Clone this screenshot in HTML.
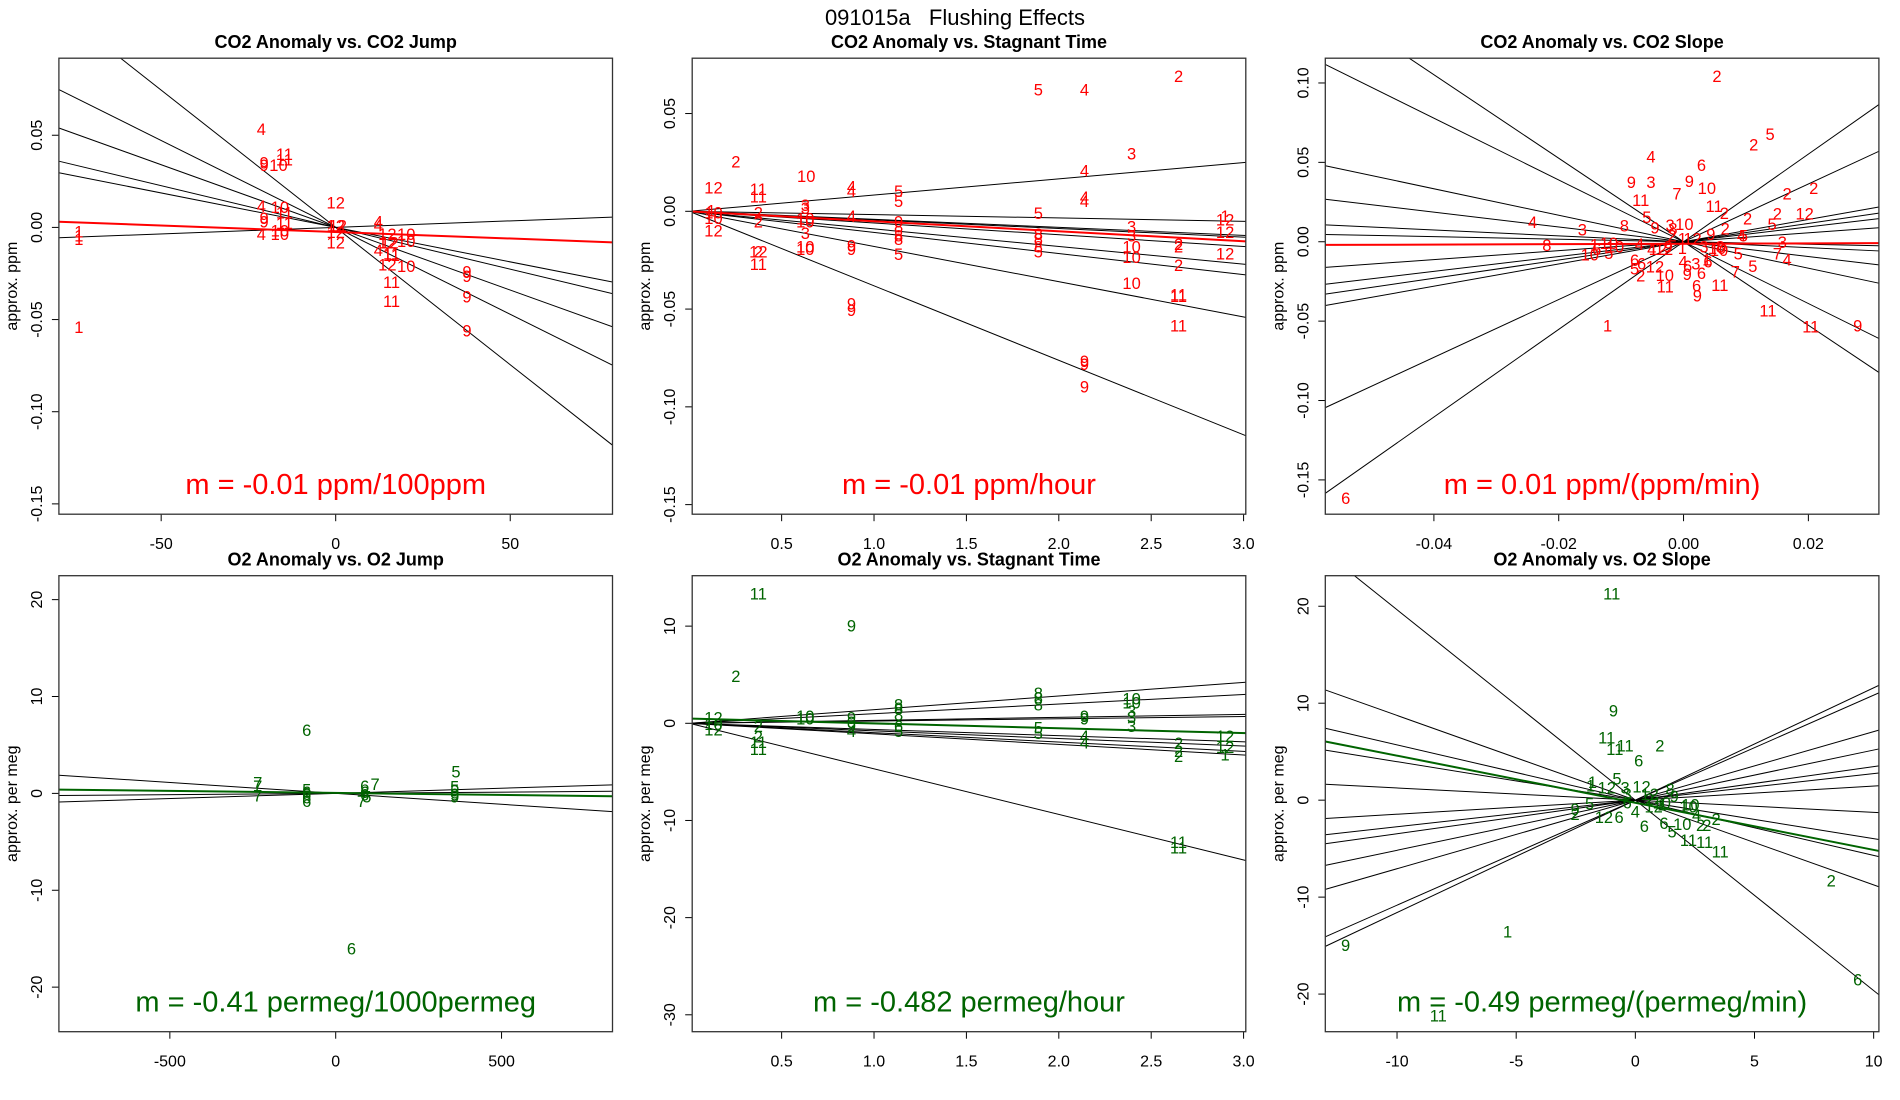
<!DOCTYPE html>
<html><head><meta charset="utf-8"><title>091015a Flushing Effects</title>
<style>
html,body{margin:0;padding:0;background:#fff;}
svg{display:block;font-family:"Liberation Sans",sans-serif;}
</style></head>
<body>
<svg id="chart" width="1900" height="1100" viewBox="0 0 1900 1100" xmlns="http://www.w3.org/2000/svg">
<rect x="0" y="0" width="1900" height="1100" fill="#fff"/>
<text x="955" y="25" font-size="22" text-anchor="middle" fill="#000" style="white-space:pre" xml:space="preserve">091015a   Flushing Effects</text>
</svg>
<script>
// ---------- Panel 1: CO2 Anomaly vs CO2 Jump ----------
var p1Labels = ["4","11","11","9","9","10","12","4","10","11","9","9","11","4","10","10","12","12","12","12","4","4","12","10","12","12","10","4","11","11","12","10","11","11","9","9","9","9","1","1","1","1"];
var p1X = [-21.3,-14.7,-14.7,-20.5,-20.5,-16.4,0,-21.3,-16.0,-14.7,-20.5,-20.5,-14.7,-21.3,-16.0,-16.0,0,0.6,0,0,12.2,12.2,14.8,20.2,14.8,15.4,20.2,12.2,16.0,16.0,14.8,20.2,16.0,16.0,37.6,37.6,37.6,37.6,-73.6,-73.6,-73.6,-73.6];
var p1Y = [0.0533,0.0397,0.0368,0.0353,0.0339,0.0339,0.0136,0.0116,0.0110,0.0081,0.0052,0.0033,0.0023,-0.0035,-0.0035,-0.0016,0.0010,0.0010,-0.0025,-0.0083,0.0033,0.0014,-0.0035,-0.0035,-0.0083,-0.0083,-0.0074,-0.0122,-0.0141,-0.0151,-0.0200,-0.0209,-0.0297,-0.0399,-0.0238,-0.0264,-0.0374,-0.0558,-0.0021,-0.0045,-0.0064,-0.0541];
var p1Slopes = [-0.000374,-0.000453,-0.00068,-0.000943,-0.00149,0.0000707];
var p1Fit = [-0.0025,-0.0000706];

// ---------- Panel 2: CO2 Anomaly vs Stagnant Time ----------
var p2Labels = ["2","5","4","3","2","10","4","12","11","11","4","4","5","5","4","4","3","3","5","4","2","2","1","10","10","12","10","10","3","9","8","8","8","5","9","9","12","2","11","10","10","8","8","8","5","3","3","10","10","2","2","2","10","11","11","11","9","9","9","9","9","1","12","12","12"];
var p2X = [2.648,1.889,2.139,2.394,0.252,0.633,2.139,0.131,0.374,0.374,0.878,0.878,1.133,1.133,2.139,2.139,0.628,0.628,1.889,0.878,0.374,0.374,0.119,0.131,0.131,0.131,0.628,0.628,0.628,1.133,1.133,1.133,1.133,1.133,0.878,0.878,0.374,0.374,0.374,0.628,0.628,1.889,1.889,1.889,1.889,2.394,2.394,2.394,2.394,2.648,2.648,2.648,2.394,2.648,2.648,2.648,0.878,0.878,2.139,2.139,2.139,2.900,2.900,2.900,2.900];
var p2Y = [0.0692,0.0624,0.0624,0.0296,0.0255,0.0181,0.0208,0.0122,0.0113,0.0077,0.0126,0.0104,0.0104,0.0053,0.0073,0.0053,0.0031,0.0016,-0.0009,-0.0024,-0.0005,-0.0051,0.0004,-0.0005,-0.0033,-0.0097,-0.0036,-0.0051,-0.0111,-0.0051,-0.0078,-0.0124,-0.0142,-0.0219,-0.0175,-0.0192,-0.0206,-0.0206,-0.0270,-0.0179,-0.0192,-0.0115,-0.0139,-0.0179,-0.0206,-0.0078,-0.0124,-0.0179,-0.0234,-0.0166,-0.0179,-0.0274,-0.0367,-0.0425,-0.0434,-0.0584,-0.0471,-0.0504,-0.0766,-0.0781,-0.0896,-0.0024,-0.0042,-0.0106,-0.0215];
var p2Slopes = [0.0083,-0.0017,-0.0041,-0.0044,-0.0060,-0.0090,-0.0108,-0.0180,-0.0381];
var p2Fit = [0,-0.0051];

// ---------- Panel 3: CO2 Anomaly vs CO2 Slope ----------
var p3Labels = ["2","5","2","4","6","9","3","9","10","7","2","2","11","11","2","12","2","2","5","5","4","8","3","9","3","10","8","2","9","4","5","8","1","10","10","4","1","12","3","10","5","6","1","4","12","10","5","7","4","6","6","5","12","2","4","6","3","1","6","10","9","6","7","5","11","6","11","9","1","11","11","9","6","9","2","8","10","3","12"];
var p3X = [0.00536,0.01386,0.01124,-0.00523,0.00288,-0.00837,-0.00523,0.00092,0.00373,-0.00105,0.0166,0.02085,-0.00686,0.0049,0.00654,0.01941,0.01503,0.01026,0.01418,-0.00588,-0.02418,-0.00948,-0.01621,-0.00458,-0.00216,0.00013,-0.0017,0.00667,0.00438,0.00928,0.00961,-0.0219,-0.01425,-0.01196,-0.01098,-0.00706,-0.0002,0.00144,0.01582,-0.01503,-0.01196,-0.01392,-0.0002,-0.0051,-0.00314,0.00536,0.00876,0.01503,0.0166,-0.00784,-0.00673,-0.00784,-0.00458,-0.00686,-0.00007,0.00065,0.00196,0.00373,0.00392,-0.00301,0.00059,0.00288,0.0083,0.01111,-0.00294,0.00209,0.00582,0.00222,-0.01216,0.01353,0.02039,0.02791,-0.05412,-0.00248,-0.00183,0.00588,0.00569,0.00327,-0.00412];
var p3Y = [0.1043,0.0679,0.0611,0.0537,0.0483,0.0375,0.0375,0.0382,0.0337,0.0303,0.0303,0.0337,0.0263,0.0225,0.018,0.0178,0.0178,0.0146,0.0112,0.0157,0.0124,0.0101,0.0076,0.009,0.0106,0.0112,0.0083,0.0083,0.0049,0.0038,0.0038,-0.0022,-0.0018,-0.0007,-0.0029,-0.0013,0.002,0.002,-0.0002,-0.0081,-0.007,-0.0047,-0.004,-0.0045,-0.0045,-0.004,-0.0074,-0.0074,-0.0112,-0.0115,-0.0137,-0.0169,-0.0157,-0.0213,-0.0126,-0.0153,-0.0137,-0.0112,-0.0126,-0.0209,-0.0204,-0.0198,-0.0187,-0.0153,-0.0283,-0.0276,-0.0272,-0.0339,-0.0528,-0.0434,-0.0535,-0.0528,-0.1613,-0.0029,0.0038,-0.0029,-0.0052,-0.0029,-0.0045];
var p3Slopes = [2.76,1.82,0.70,0.575,0.466,0.281,-0.08,-0.185,-0.466,-0.834,-1.946,-2.63];
var p3Fit = [-0.00129,0.0124];

// ---------- Panel 4: O2 Anomaly vs O2 Jump ----------
var p4Labels = ["6","5","7","7","7","6","7","5","6","6","6","6","6","6","7","5","5","5","9","9","6"];
var p4X = [-87.5,362.5,-235,-235,-235,87.5,118.75,-87.5,-87.5,-87.5,-87.5,-87.5,87.5,87.5,77.5,93.75,358.75,358.75,358.75,358.75,47.5];
var p4Y = [6.53,2.25,1.14,0.77,-0.22,0.77,0.96,0.41,-0.04,-0.41,-0.77,0.15,0.15,-0.11,-0.77,-0.33,0.70,0.33,-0.11,-0.33,-16.0];
var p4Slopes = [0.00106,0.00026,-0.00225];
var p4Fit = [0.05,-0.00041];

// ---------- Panel 5: O2 Anomaly vs Stagnant Time ----------
var p5Labels = ["11","9","2","8","8","8","10","10","3","8","8","8","10","10","9","9","9","4","6","5","9","9","3","3","5","5","4","4","12","12","10","2","2","11","11","2","2","2","12","12","1","11","11"];
var p5X = [0.374,0.878,0.252,1.889,1.889,1.889,2.394,2.394,2.394,1.133,1.133,1.133,0.628,0.628,0.878,0.878,0.878,0.878,1.133,1.133,2.139,2.139,2.394,2.394,1.889,1.889,2.139,2.139,0.131,0.131,0.131,0.374,0.374,0.374,0.374,2.648,2.648,2.648,2.900,2.900,2.900,2.648,2.648];
var p5Y = [13.35,10.04,4.85,3.13,2.68,1.95,2.57,2.13,1.29,1.95,1.58,0.92,0.74,0.48,0.59,0.11,-0.26,-0.81,-0.26,-0.81,0.74,0.48,0.66,-0.26,-0.44,-0.99,-1.29,-1.99,0.59,-0.63,-0.07,-0.26,-1.36,-1.91,-2.65,-2.02,-2.83,-3.38,-1.29,-2.46,-3.2,-12.21,-12.76];
var p5Slopes = [1.404,0.989,0.305,0.232,-0.634,-0.780,-0.963,-1.086,-4.688];
var p5Fit = [0.49,-0.50];

// ---------- Panel 6: O2 Anomaly vs O2 Slope ----------
var p6Labels = ["11","9","11","11","11","2","6","1","1","5","12","3","12","5","9","2","12","6","4","6","6","5","10","11","11","11","2","2","2","4","10","9","8","12","10","2","6","9","1","11","3","2","10","6","12","1"];
var p6X = [-0.99,-0.92,-1.2,-0.86,-0.43,1.03,0.14,-1.8,-1.88,-0.77,-1.2,-0.43,0.26,-1.92,-2.53,-2.53,-1.32,-0.68,0,0.38,1.2,1.54,1.97,2.23,2.91,3.56,2.74,3.0,3.39,2.57,2.31,1.63,1.46,0.77,2.23,8.22,9.33,-12.16,-5.36,-8.27,-0.34,0.6,1.11,-0.34,0.6,1.11];
var p6Y = [21.33,9.26,6.46,5.28,5.65,5.65,4.1,1.88,1.51,2.21,1.29,1.29,1.4,-0.33,-0.89,-1.44,-1.73,-1.73,-1.18,-2.66,-2.36,-3.21,-2.47,-4.13,-4.32,-5.31,-2.55,-2.55,-1.92,-1.55,-0.44,0.41,1.14,-0.63,-0.63,-8.3,-18.52,-14.94,-13.54,-22.21,0.66,0.11,-0.26,-0.26,0.66,-0.44];
var p6Slopes = [1.159,1.083,0.707,0.517,0.346,0.274,0.145,-0.126,-0.397,-0.570,-0.874,-1.964];
var p6Fit = [-0.27,-0.486];

// ---------- tick arrays ----------
var p1XTicks = [-50,0,50], p1XTickLabels = ["-50","0","50"];
var co2YTicks = [-0.15,-0.10,-0.05,0,0.05], co2YTickLabels = ["-0.15","-0.10","-0.05","0.00","0.05"];
var timeXTicks = [0.5,1.0,1.5,2.0,2.5,3.0], timeXTickLabels = ["0.5","1.0","1.5","2.0","2.5","3.0"];
var p3XTicks = [-0.04,-0.02,0,0.02], p3XTickLabels = ["-0.04","-0.02","0.00","0.02"];
var p3YTicks = [-0.15,-0.10,-0.05,0,0.05,0.10], p3YTickLabels = ["-0.15","-0.10","-0.05","0.00","0.05","0.10"];
var p4XTicks = [-500,0,500], p4XTickLabels = ["-500","0","500"];
var o2YTicks = [-20,-10,0,10,20], o2YTickLabels = ["-20","-10","0","10","20"];
var p5YTicks = [-30,-20,-10,0,10], p5YTickLabels = ["-30","-20","-10","0","10"];
var p6XTicks = [-10,-5,0,5,10], p6XTickLabels = ["-10","-5","0","5","10"];

var RED = "#ff0000", GREEN = "#006400";
var panels = [
 {id:"co2-jump",title:"CO2 Anomaly vs. CO2 Jump",left:58.9,top:58.2,xlim:[-79.3,79.3],ylim:[-0.1556,0.0918],xt:p1XTicks,xl:p1XTickLabels,yt:co2YTicks,yl:co2YTickLabels,ylab:"approx. ppm",labels:p1Labels,xs:p1X,ys:p1Y,slopes:p1Slopes,fit:p1Fit,col:RED,m:"m = -0.01 ppm/100ppm"},
 {id:"co2-stagnant",title:"CO2 Anomaly vs. Stagnant Time",left:692.2,top:58.2,xlim:[0.016,3.012],ylim:[-0.1549,0.0783],xt:timeXTicks,xl:timeXTickLabels,yt:co2YTicks,yl:co2YTickLabels,ylab:"approx. ppm",labels:p2Labels,xs:p2X,ys:p2Y,slopes:p2Slopes,fit:p2Fit,col:RED,m:"m = -0.01 ppm/hour"},
 {id:"co2-slope",title:"CO2 Anomaly vs. CO2 Slope",left:1325.3,top:58.2,xlim:[-0.0574,0.0313],ylim:[-0.1716,0.1156],xt:p3XTicks,xl:p3XTickLabels,yt:p3YTicks,yl:p3YTickLabels,ylab:"approx. ppm",labels:p3Labels,xs:p3X,ys:p3Y,slopes:p3Slopes,fit:p3Fit,col:RED,m:"m = 0.01 ppm/(ppm/min)"},
 {id:"o2-jump",title:"O2 Anomaly vs. O2 Jump",left:58.9,top:575.7,xlim:[-834.5,834.5],ylim:[-24.6,22.47],xt:p4XTicks,xl:p4XTickLabels,yt:o2YTicks,yl:o2YTickLabels,ylab:"approx. per meg",labels:p4Labels,xs:p4X,ys:p4Y,slopes:p4Slopes,fit:p4Fit,col:GREEN,m:"m = -0.41 permeg/1000permeg"},
 {id:"o2-stagnant",title:"O2 Anomaly vs. Stagnant Time",left:692.2,top:575.7,xlim:[0.016,3.012],ylim:[-31.74,15.19],xt:timeXTicks,xl:timeXTickLabels,yt:p5YTicks,yl:p5YTickLabels,ylab:"approx. per meg",labels:p5Labels,xs:p5X,ys:p5Y,slopes:p5Slopes,fit:p5Fit,col:GREEN,m:"m = -0.482 permeg/hour"},
 {id:"o2-slope",title:"O2 Anomaly vs. O2 Slope",left:1325.3,top:575.7,xlim:[-13.01,10.22],ylim:[-23.88,23.15],xt:p6XTicks,xl:p6XTickLabels,yt:o2YTicks,yl:o2YTickLabels,ylab:"approx. per meg",labels:p6Labels,xs:p6X,ys:p6Y,slopes:p6Slopes,fit:p6Fit,col:GREEN,m:"m = -0.49 permeg/(permeg/min)"}
];
var W = 553.6, H = 456;
var NS = "http://www.w3.org/2000/svg";
var svg = document.getElementById("chart");
function mk(tag, attrs, parent, txt){
  var e = document.createElementNS(NS, tag);
  for (var k in attrs) e.setAttribute(k, attrs[k]);
  if (txt !== undefined) e.textContent = txt;
  parent.appendChild(e);
  return e;
}
var defs = mk("defs", {}, svg);
panels.forEach(function(p, pi){
  var g = mk("g", {}, svg);
  
  
  var sx = function(v){ return p.left + (v - p.xlim[0]) / (p.xlim[1] - p.xlim[0]) * W; };
  var sy = function(v){ return p.top + H - (v - p.ylim[0]) / (p.ylim[1] - p.ylim[0]) * H; };
  var cp = mk("clipPath", {id:"clip" + pi}, defs);
  mk("rect", {x:p.left, y:p.top, width:W, height:H}, cp);
  var t = mk("text", {x:p.left + W/2, y:p.top - 10, "font-size":18, "font-weight":"bold", "text-anchor":"middle"}, g, p.title);
  
  
  var yl = mk("text", {x:0, y:0, "font-size":16, "text-anchor":"middle", transform:"translate(" + (p.left - 42) + "," + (p.top + H/2) + ") rotate(-90)"}, g, p.ylab);
  
  
  p.xt.forEach(function(v, i){
    var x = sx(v);
    var tk = mk("line", {x1:x, x2:x, y1:p.top + H, y2:p.top + H + 7, stroke:"#000", "stroke-width":1}, g);
    
    
    var tl = mk("text", {x:x, y:p.top + H + 35, "font-size":16, "text-anchor":"middle"}, g, p.xl[i]);
    
    
  });
  p.yt.forEach(function(v, i){
    var y = sy(v);
    var tk = mk("line", {x1:p.left - 7, x2:p.left, y1:y, y2:y, stroke:"#000", "stroke-width":1}, g);
    
    
    var tl = mk("text", {x:0, y:0, "font-size":16, "text-anchor":"middle", transform:"translate(" + (p.left - 17) + "," + y + ") rotate(-90)"}, g, p.yl[i]);
    
    
  });
  var lg = mk("g", {"clip-path":"url(#clip" + pi + ")"}, g);
  
  
  p.slopes.forEach(function(s){
    var l = mk("line", {x1:sx(p.xlim[0]), y1:sy(s * p.xlim[0]), x2:sx(p.xlim[1]), y2:sy(s * p.xlim[1]), stroke:"#000", "stroke-width":1}, lg);
    
    
  });
  var fl = mk("line", {x1:sx(p.xlim[0]), y1:sy(p.fit[0] + p.fit[1] * p.xlim[0]), x2:sx(p.xlim[1]), y2:sy(p.fit[0] + p.fit[1] * p.xlim[1]), stroke:p.col, "stroke-width":2}, lg);
  
  
  p.labels.forEach(function(lab, i){
    var pt = mk("text", {x:sx(p.xs[i]), y:sy(p.ys[i]) + 6, "font-size":16.5, "text-anchor":"middle", fill:p.col}, g, lab);
    
    
  });
  var mt = mk("text", {x:p.left + W/2, y:p.top + H - 20, "font-size":29, "text-anchor":"middle", fill:p.col}, g, p.m);
  
  
  var box = mk("rect", {x:p.left, y:p.top, width:W, height:H, fill:"none", stroke:"#333", "stroke-width":1.3}, g);
  
  
});
</script>
</body></html>
